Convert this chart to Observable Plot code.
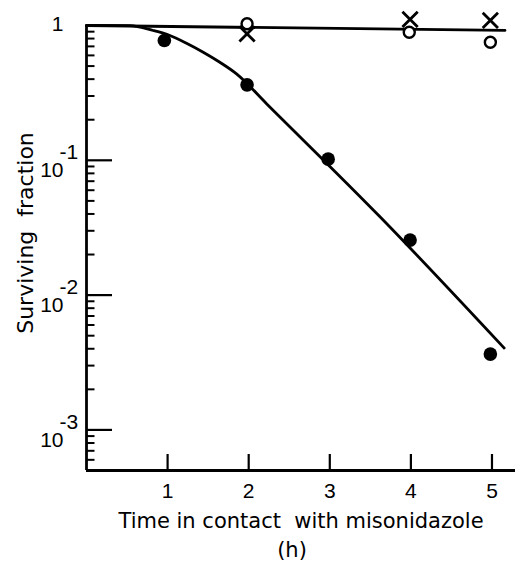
<!DOCTYPE html>
<html>
<head>
<meta charset="utf-8">
<script src="https://cdn.jsdelivr.net/npm/d3@7"></script>
<script src="https://cdn.jsdelivr.net/npm/@observablehq/plot@0.6"></script>
<style>
  html, body { margin: 0; padding: 0; background: white; }
  svg { display: block; }
</style>
</head>
<body>
<div id="chart"></div>
<script>
// Measured points: filled circles (with misonidazole, hypoxic)
const filledX = [0.96, 1.98, 2.98, 3.99, 4.98];
const filledY = [0.774, 0.363, 0.102, 0.0256, 0.00365];
// Open circles
const openX = [1.98, 3.98, 4.98];
const openY = [1.03, 0.892, 0.751];
// Crosses
const crossX = [1.98, 3.99, 4.98];
const crossY = [0.867, 1.11, 1.09];
// Fitted curve for filled circles
const curveX = [0, 0.534, 0.822, 1.028, 1.233, 1.439, 1.644, 1.85, 2.22, 3.625, 5.15];
const curveY = [1, 0.997, 0.918, 0.843, 0.739, 0.634, 0.534, 0.438, 0.263, 0.0378, 0.00405];
// Fitted line for open circles and crosses
const flatX = [0, 5.16];
const flatY = [1, 0.92];
// Axis ticks and labels
const xTicks = [1, 2, 3, 4, 5];
const yMajor = [1e-3, 1e-2, 1e-1];
const yExp = ["-3", "-2", "-1"];
const yMinor = [6e-4, 7e-4, 8e-4, 9e-4,
  2e-3, 3e-3, 4e-3, 5e-3, 6e-3, 7e-3, 8e-3, 9e-3,
  2e-2, 3e-2, 4e-2, 5e-2, 6e-2, 7e-2, 8e-2, 9e-2,
  0.2, 0.3, 0.4, 0.5, 0.6, 0.7, 0.8, 0.9];
const xTitle = "Time in contact  with misonidazole";
const xUnit = "(h)";
const yTitle = "Surviving  fraction";

const zip = (xs, ys) => xs.map((x, i) => ({x, y: ys[i]}));
const filled = zip(filledX, filledY);
const open = zip(openX, openY);
const cross = zip(crossX, crossY);
const curve = zip(curveX, curveY);
const flat = zip(flatX, flatY);

const W = 515, H = 563, mL = 86, mR = 0, mT = 25, mB = 93;
const xMax = 5.29, yMin = 5e-4, yMax = 1;
const frameW = W - mL - mR, frameH = H - mT - mB;
const pxPerX = frameW / xMax;                         // px per hour
const pxPerDecade = frameH / Math.log10(yMax / yMin); // px per decade
const majorLen = 26 / pxPerX, minorLen = 8.5 / pxPerX; // tick lengths in x units
const xTickTop = yMin * Math.pow(10, 16 / pxPerDecade);
const font = "DejaVu Sans";
const digitFont = "Liberation Sans";

const plot = Plot.plot({
  width: W,
  height: H,
  marginLeft: mL,
  marginRight: mR,
  marginTop: mT,
  marginBottom: mB,
  style: {background: "white", color: "black", fontFamily: font, fontSize: "20px"},
  x: {domain: [0, xMax], axis: null},
  y: {type: "log", domain: [yMin, yMax], axis: null},
  marks: [
    // axes
    Plot.ruleX([0], {stroke: "black", strokeWidth: 2.8}),
    Plot.ruleY([yMin], {stroke: "black", strokeWidth: 2.8}),
    Plot.ruleX(xTicks, {x: d => d, y1: yMin, y2: xTickTop, stroke: "black", strokeWidth: 2.2}),
    Plot.ruleY(yMajor, {y: d => d, x1: 0, x2: majorLen, stroke: "black", strokeWidth: 2.2}),
    Plot.ruleY(yMinor, {y: d => d, x1: 0, x2: minorLen, stroke: "black", strokeWidth: 2}),
    // tick labels
    Plot.text(xTicks, {x: d => d, y: yMin, dy: 27, lineAnchor: "bottom", text: d => String(d),
      fontFamily: digitFont, fontSize: 21, fill: "black"}),
    Plot.text([1], {x: 0, y: d => d, text: d => "1", textAnchor: "end", dx: -23, dy: -1,
      fontFamily: digitFont, fontSize: 21, fill: "black"}),
    Plot.text(yMajor, {x: 0, y: d => d, text: d => "10", textAnchor: "end", dx: -23, dy: 10,
      fontFamily: digitFont, fontSize: 21, fill: "black"}),
    Plot.text(yMajor, {x: 0, y: d => d, text: (d, i) => yExp[i], textAnchor: "start", dx: -27, dy: -8,
      fontFamily: digitFont, fontSize: 21, fill: "black"}),
    // axis titles
    Plot.text([xTitle], {frameAnchor: "bottom", text: d => d, lineAnchor: "bottom", dy: 57, dx: 0,
      fontSize: 21, fill: "black"}),
    Plot.text([xUnit], {frameAnchor: "bottom", text: d => d, lineAnchor: "bottom", dy: 86, dx: -9,
      fontSize: 21, fill: "black"}),
    Plot.text([yTitle], {frameAnchor: "left", text: d => d, rotate: -90, lineAnchor: "bottom",
      textAnchor: "middle", dx: -54, dy: -15, fontSize: 22, fill: "black"}),
    // fitted lines
    Plot.line(flat, {x: "x", y: "y", stroke: "black", strokeWidth: 2.8}),
    Plot.line(curve, {x: "x", y: "y", stroke: "black", strokeWidth: 2.8, curve: "monotone-x"}),
    // points
    Plot.dot(cross, {x: "x", y: "y", symbol: "times", r: 7, stroke: "black", strokeWidth: 2.8}),
    Plot.dot(open, {x: "x", y: "y", r: 5.5, stroke: "black", strokeWidth: 2.4, fill: "white"}),
    Plot.dot(filled, {x: "x", y: "y", r: 6.8, fill: "black", stroke: "none"})
  ]
});
document.getElementById("chart").appendChild(plot);
</script>
</body>
</html>
